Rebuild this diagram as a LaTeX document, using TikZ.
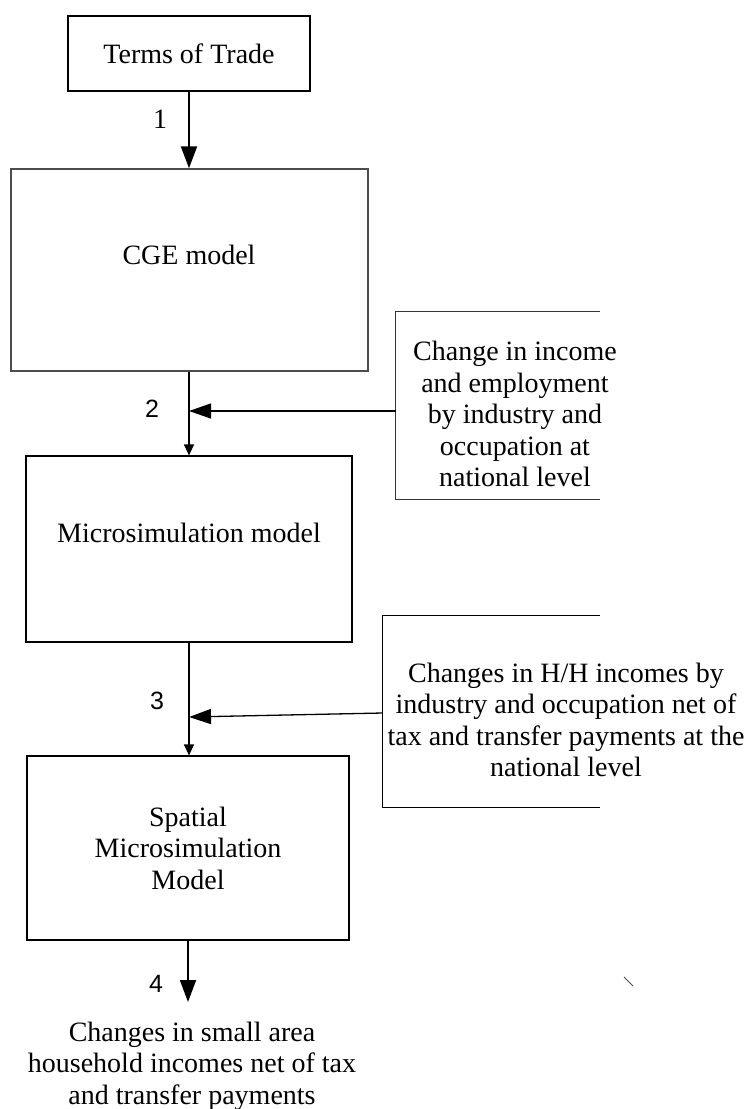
\documentclass[tikz,border=0pt]{standalone}
\usepackage{fontspec}
\setmainfont{Liberation Serif}
\newfontfamily\numfont{Liberation Sans}
\usetikzlibrary{arrows.meta}
\tikzset{
  box/.style={draw, rectangle, inner sep=0pt, line width=1.2pt},
  txt/.style={align=center, inner sep=0pt, font=\fontsize{28}{31.5}\selectfont},
  numlab/.style={inner sep=0pt, font=\numfont\fontsize{25}{25}\selectfont},
  bigarrow/.style={line width=2pt, -{Triangle[length=22pt,width=16pt]}},
  thinbig/.style={line width=1.3pt, -{Triangle[length=22pt,width=15pt]}},
  thinsmall/.style={line width=1.2pt, -{Triangle[length=11pt,width=10pt]}}
}
\begin{document}
\begin{tikzpicture}[x=1pt,y=-1pt]
\useasboundingbox (0,0) rectangle (749,1109);

% main boxes
\node[box, minimum width=242pt, minimum height=75pt] (terms) at (189,53.5) {};
\node[box, draw=black!70, line width=1.4pt, minimum width=357pt, minimum height=202pt] (cge) at (189.5,270) {};
\node[box, minimum width=326pt, minimum height=186pt] (micro) at (189,549) {};
\node[box, minimum width=322pt, minimum height=184pt] (spatial) at (188,848) {};

% texts of main boxes
\node[txt] (termst) at (189,53.5) {Terms of Trade};
\node[txt] (cget) at (189,255) {CGE model};
\node[txt] (microt) at (189,533) {Microsimulation model};
\node[txt] (spatialt) at (188,848) {Spatial\\Microsimulation\\Model};

% open side boxes
\node[rectangle, inner sep=0pt, minimum width=204pt, minimum height=187pt] (in1) at (498,405.5) {};
\draw[line width=1.2pt, black!80] (in1.north east) -- (in1.north west) -- (in1.south west) -- (in1.south east);
\node[txt] (in1t) at (515,414) {Change in income\\and employment\\by industry and\\occupation at\\national level};

\node[rectangle, inner sep=0pt, minimum width=217pt, minimum height=191pt] (in2) at (491.5,711.5) {};
\draw[line width=1.2pt] (in2.north east) -- (in2.north west) -- (in2.south west) -- (in2.south east);
\node[txt] (in2t) at (566,720) {Changes in H/H incomes by\\industry and occupation net of\\tax and transfer payments at the\\national level};

% output text
\node[txt] (out) at (192,1066) {Changes in small area\\household incomes net of tax\\and transfer payments};

% junction coordinates
\coordinate (j2) at (189,411);
\coordinate (j3) at (189,717);
\coordinate (e4) at (188,1002);

% connectors
\draw[bigarrow] (terms.south) -- (cge.north -| terms.south);
\draw[thinsmall] (cge.south -| micro.north) -- (micro.north);
\draw[thinbig] ([yshift=-5.5pt]in1.west) -- (j2);
\draw[thinsmall] (micro.south) -- (spatial.north -| micro.south);
\draw[thinbig] ([yshift=-1.5pt]in2.west) -- (j3);
\draw[bigarrow] (spatial.south) -- (e4);

% labels
\node[inner sep=0pt, font=\fontsize{28}{28}\selectfont] (l1) at (160,119) {1};
\node[numlab] (l2) at (152,409) {2};
\node[numlab] (l3) at (157,701) {3};
\node[numlab] (l4) at (156,984) {4};

% stray tick
\draw[black!70, line width=1pt] (624,977) -- (633,986);
\end{tikzpicture}
\end{document}
